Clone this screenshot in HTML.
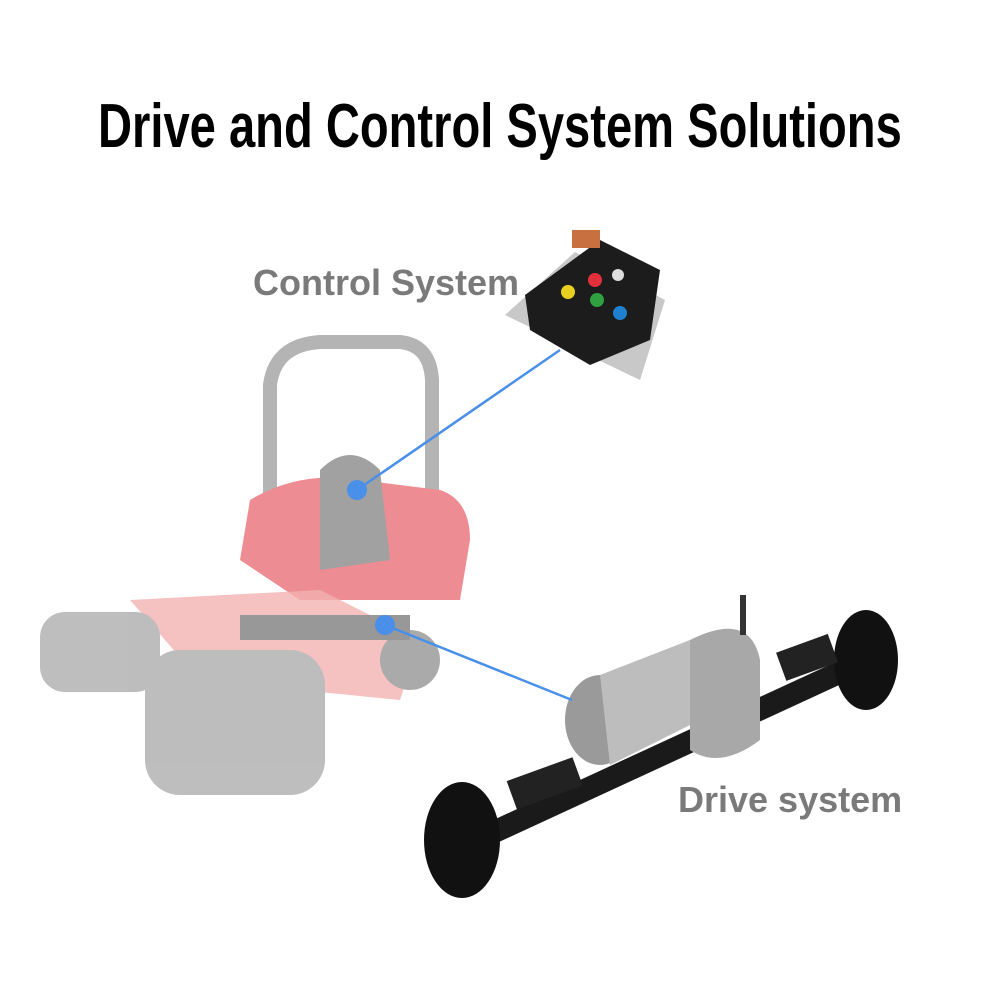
<!DOCTYPE html>
<html><head><meta charset="utf-8"><style>
html,body{margin:0;padding:0;background:#fff;width:1000px;height:1000px;overflow:hidden}
.t{position:absolute;left:98px;top:96px;line-height:62px;white-space:nowrap;font-family:"Liberation Sans Narrow","Liberation Sans",sans-serif;font-weight:bold;font-size:62px;color:#000;transform:scaleX(0.76);transform-origin:0 0}
.l{position:absolute;font-family:"Liberation Sans",sans-serif;font-weight:bold;color:#7a7a7a;font-size:36px}
</style></head><body>
<div class="t">Drive and Control System Solutions</div>
<svg width="1000" height="1000" style="position:absolute;left:0;top:0">
<g opacity="0.55">
<path d="M270 520 L270 385 Q275 345 320 342 L400 342 Q430 345 432 380 L432 600" fill="none" stroke="#777" stroke-width="14"/>
<path d="M240 560 L250 500 Q300 470 360 480 L440 490 Q470 500 470 540 L460 600 L300 600 Z" fill="#e0303a"/>
<path d="M320 470 Q350 440 380 470 L390 560 L320 570 Z" fill="#555"/>
<path d="M130 600 L320 590 L420 640 L400 700 L200 680 Z" fill="#e87070" opacity="0.8"/>
<rect x="40" y="612" width="120" height="80" rx="25" fill="#888"/>
<rect x="145" y="650" width="180" height="145" rx="35" fill="#888"/>
<circle cx="410" cy="660" r="30" fill="#666"/>
<rect x="240" y="615" width="170" height="25" fill="#444"/>
</g>
<path d="M505 315 L575 252 L665 300 L640 380 Z" fill="#c8c8c8"/>
<path d="M525 295 L600 240 L660 270 L650 340 L590 365 L530 330 Z" fill="#1c1c1c"/>
<rect x="572" y="230" width="28" height="18" fill="#c87040"/>
<circle cx="595" cy="280" r="7" fill="#e0303a"/>
<circle cx="568" cy="292" r="7" fill="#e8d020"/>
<circle cx="597" cy="300" r="7" fill="#30a040"/>
<circle cx="620" cy="313" r="7" fill="#2080d0"/>
<circle cx="618" cy="275" r="6" fill="#ddd"/>
<path d="M450 840 L840 660 L850 680 L460 860 Z" fill="#1a1a1a"/>
<ellipse cx="462" cy="840" rx="38" ry="58" fill="#111"/>
<ellipse cx="866" cy="660" rx="32" ry="50" fill="#111"/>
<rect x="780" y="645" width="55" height="30" fill="#222" transform="rotate(-20 800 660)"/>
<rect x="510" y="770" width="70" height="30" fill="#222" transform="rotate(-20 540 785)"/>
<ellipse cx="600" cy="720" rx="35" ry="45" fill="#9a9a9a"/>
<path d="M600 675 L690 640 L700 720 L610 765 Z" fill="#bdbdbd"/>
<path d="M690 640 Q750 610 760 660 L760 740 Q720 770 690 750 Z" fill="#a8a8a8"/>
<rect x="740" y="595" width="6" height="40" fill="#333"/>
<line x1="357" y1="490" x2="560" y2="350" stroke="#4a90e8" stroke-width="2.5"/>
<line x1="385" y1="625" x2="572" y2="700" stroke="#4a90e8" stroke-width="2.5"/>
<circle cx="357" cy="490" r="10" fill="#4a90e8"/>
<circle cx="385" cy="625" r="10" fill="#4a90e8"/>
</svg>
<div class="l" style="left:253px;top:262px">Control System</div>
<div class="l" style="left:678px;top:779px">Drive system</div>
</body></html>
